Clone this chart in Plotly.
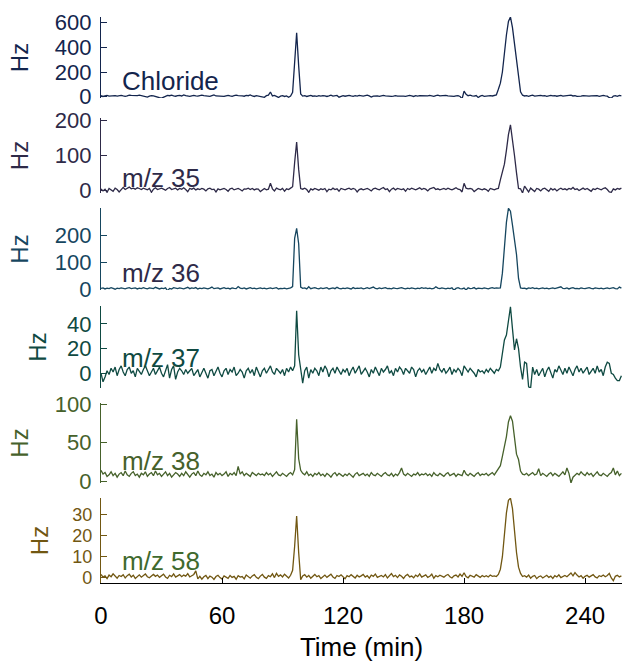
import plotly.graph_objects as go
from plotly.subplots import make_subplots

# ---------------- data (1 sample per minute, t = 0..258 min) ----------------
time_min = list(range(259))

chloride = [
    8, 2, 6, 10, 4, 7, 12, 9, 5, 8,
    11, 6, 3, 7, 13, 10, 8, 5, 9, 12,
    7, 4, 2, -3, 5, 9, 6, 3, 1, -8,
    -12, -4, 6, 10, 8, 12, 7, 4, 9, 11,
    6, 14, 8, 5, 3, 7, 10, 6, 4, 9,
    12, 8, 5, 7, 3, 9, 15, 6, 4, 8,
    5, 2, 7, 10, 6, 3, 8, 12, 9, 5,
    7, 4, 10, 8, 14, 6, 2, 9, 5, 7,
    3, -5, 8, 12, 38, 6, 10, 4, -6, 5,
    8, 2, 6, -4, 5, 35, 290, 518, 250, 22,
    5, 8, 2, 6, 10, 4, 7, 3, 8, 5,
    9, 6, 2, 7, 13, 5, 8, 10, -4, 6,
    9, 4, 7, 11, 6, 3, 8, 5, 10, 7,
    4, 8, 12, 6, -3, 5, 9, 7, 3, 8,
    10, 6, 4, 7, 2, 5, 9, 4, 6, 8,
    5, 3, 7, 10, 6, 2, 8, 5, 9, 7,
    4, 8, 6, 11, 5, 3, 9, 12, 6, 8,
    4, 10, 7, 5, 8, 3, 6, 9, 2, -18,
    45, 20, 8, 12, 6, 4, 9, -6, 5, 10,
    3, 7, 5, 9, 6, 8, 15, 60, 110, 200,
    360, 500, 610, 646, 560, 430, 290, 140, 40, 12,
    6, 9, 3, 8, 12, 5, 7, 4, 10, 6,
    8, 3, 6, 11, 7, 9, 4, 6, 10, 5,
    7, 4, 8, 12, 6, 9, 3, 7, 5, 8,
    6, 10, 4, 7, 9, 5, 8, 3, 6, 11,
    7, 4, -8, -12, 5, 8, 3, 10, 6,
]

mz35 = [
    4, -2, 3, -6, 5, 1, -3, 6, 2, -5,
    3, 8, 2, 5, 9, 4, 6, 3, 7, 5,
    2, 6, 4, 1, 5, -6, 3, 7, 2, 4,
    6, 3, 0, 5, 8, 2, 4, 6, 1, 5,
    3, 7, 2, -4, 5, 3, 6, 1, 4, 2,
    5, 3, -2, 4, 6, 2, 3, -5, 4, 1,
    3, 5, 2, -3, 4, 6, 1, 3, 5, 2,
    -2, 4, 3, 6, 2, 5, 1, 4, 3, -4,
    2, 5, 1, 3, 20, 4, -2, 6, 3, 1,
    5, -3, 4, 2, 6, 10, 80, 139, 60, 5,
    3, 6, 2, -6, 4, 1, 5, 3, 0, 4,
    2, 5, -4, 3, 1, 6, 2, 4, -3, 5,
    3, 1, 4, 6, 2, 5, 3, -5, 2, 4,
    1, 3, 5, 2, -2, 4, 6, 3, 1, 5,
    8, 2, 4, -4, 3, 6, 1, 5, 3, 2,
    4, -3, 5, 2, 6, 3, 1, 4, 7, 2,
    5, 3, -2, 4, 6, 8, 2, 4, 1, 3,
    5, 2, 6, 3, 1, 4, 7, 3, 2, -5,
    20, 6, 4, 5, 3, -4, 2, 5, 3, 1,
    4, 2, -3, 5, 3, 1, 4, 5, 30, 55,
    75, 115, 160, 188, 150, 100, 50, 5, 4, -8,
    12, 2, -5, 6, 1, -4, 5, 3, -2, 4,
    6, 2, -3, 5, 1, 4, -2, 3, 6, 2,
    4, 1, 5, 3, 8, 2, 4, -1, 3, 6,
    2, 5, 1, -3, 4, 2, 6, 3, 1, 5,
    7, 2, -5, -6, 4, 1, 5, 3, 6,
]

mz36 = [
    3, 5, 1, 4, 2, 6, 3, 0, 4, 2,
    5, 3, 1, 4, 6, 2, 3, 5, 1, 4,
    2, 6, 3, 1, 5, 4, 2, 7, 3, 1,
    4, 2, 5, -6, 3, 1, 6, 4, 2, 5,
    3, 1, 4, 7, 2, 5, 3, 6, 1, 4,
    2, 5, 3, 1, 4, 8, 2, 3, 5, 1,
    3, 6, 2, 4, 1, 5, 3, 2, 10, 4,
    2, 5, 1, 3, 6, 2, 4, 1, 3, 5,
    2, 4, 1, 3, 5, 2, 4, 6, 1, 3,
    2, 4, 1, 3, 5, 10, 190, 228, 170, 8,
    3, 5, 1, 9, 2, 4, 6, 3, 1, 5,
    2, 4, 6, 1, 3, 5, 2, 7, 3, 1,
    4, 2, 5, 3, 1, 6, 2, 4, 3, 5,
    1, 3, 6, 2, 4, 8, 3, 1, 5, 2,
    4, 6, 2, 3, 1, 5, 3, 2, 4, 6,
    3, 1, 4, 2, 5, 3, 1, 4, 2, 6,
    3, 5, 2, 4, 1, 3, 9, 4, 2, 5,
    3, 1, 4, 2, 5, -4, 3, 6, 2, 1,
    4, -3, 5, 2, 3, 6, 1, 4, 3, 2,
    5, 3, 1, 4, 6, 3, 5, 4, 5, 60,
    170, 250, 303, 292, 240, 190, 130, 40, 5, 3,
    4, 1, 5, 3, 6, 2, 4, 1, 3, 5,
    2, 4, 1, 3, 5, 2, 4, 6, 9, 3,
    2, 5, 1, 4, 6, 2, 3, 1, 5, 3,
    2, 4, 6, 3, 1, 5, 3, 2, 4, 1,
    3, 5, 2, 4, 6, 2, 1, 8, 4,
]

mz37 = [
    0, -7, -3, 2, -1, 4, 1, 5, -2, 3,
    6, 1, -2, 3, 5, 0, 2, -3, 4, 1,
    -1, 3, 6, 2, -2, 1, 4, -1, 2, 5,
    0, -3, 2, 7, -4, 3, 6, -5, 1, 4,
    2, -1, 3, 0, 2, 4, -2, 1, 3, -3,
    1, 4, 0, -4, 2, 3, -2, 1, 5, 0,
    -3, 2, 4, -1, 3, 1, 5, -2, 0, 3,
    1, -4, 2, 4, 0, 3, -2, 5, 1, -3,
    2, 4, 0, 3, 6, 1, -1, 4, 2, 0,
    3, -2, 4, 1, 5, 2, 6, 50.7, 15, 5,
    -8, 2, 5, -4, 3, 0, 4, 2, -2, 5,
    1, 6, 3, -3, 2, 4, 0, 5, 2, -1,
    3, 1, 4, -2, 2, 5, 0, 3, 6, -1,
    2, 4, 1, -3, 3, 0, 5, 2, -2, 4,
    1, 3, 6, 0, 2, -2, 4, 1, 5, 3,
    -1, 4, 2, 0, 5, 3, -3, 2, 4, 1,
    3, -1, 2, 5, 0, 4, 2, 8, 3, 1,
    4, 0, 2, 5, -1, 3, 1, 4, 2, -2,
    6, 3, 1, 4, 2, 0, -3, 3, 1, 2,
    0, 3, 1, 4, 2, 0, 3, 2, 5, 15,
    27, 31, 45, 54, 36, 19, 28, 20, 5, -5,
    9, 8, -11, -12, 5, -1, 3, -2, 1, 4,
    -3, 2, 5, 0, -4, 3, 1, 6, 2, -1,
    4, 0, 5, 2, -2, 3, 6, 1, 4, 0,
    3, 5, -1, 2, 4, 0, 6, 1, 3, -2,
    5, 9, 8, 0, -1, -4, -6, -6, -2,
]

mz38 = [
    14, 9, 11, 6, 8, 12, 7, 10, 5, 9,
    11, 7, 13, 8, 6, 10, 12, 7, 9, 5,
    10, 8, 12, 6, 9, 11, 7, 13, 8, 10,
    6, 9, 12, 7, 10, 5, 8, 11, 9, 6,
    10, 7, 12, 8, 5, 9, 11, 7, 13, 8,
    6, 10, 8, 12, 7, 9, 5, 11, 8, 10,
    7, 9, 12, 6, 10, 8, 11, 7, 19, 9,
    12, 7, 10, 8, 6, 11, 9, 7, 10, 8,
    9, 7, 11, 8, 10, 6, 9, 12, 8, 7,
    10, 8, 6, 9, 11, 8, 15, 80.5, 29, 14,
    10, 8, 12, 7, 9, 6, 10, 8, 11, 7,
    9, 6, 10, 8, 5, 9, 11, 7, 10, 8,
    6, 9, 7, 10, 8, 5, 9, 11, 7, 8,
    10, 7, 9, 6, 11, 8, 7, 10, 8, 6,
    9, 11, 8, 7, 10, 6, 9, 7, 11, 17,
    9, 7, 10, 8, 6, 9, 8, 11, 7, 9,
    8, 10, 7, 9, 6, 11, 8, 7, 10, 8,
    6, 9, 11, 7, 8, 10, 6, 9, 8, 7,
    14, 9, 7, 10, 8, 6, 9, 11, 7, 9,
    8, 10, 7, 9, 11, 8, 12, 15, 20, 32,
    45, 58, 77, 85, 78, 58, 35, 28, 13, 9,
    8, 10, 7, 9, 11, 8, 9, 16, 7, 10,
    8, 6, 9, 11, 7, 10, 8, 6, 9, 12,
    8, 17, 10, -2.6, 5, 7, 10, 8, 12, 9,
    7, 11, 8, 10, 6, 9, 12, 8, 7, 10,
    8, 6, 9, 11, 17, 8, 13, 7, 10,
]

mz58 = [
    1.5, 0.2, 0.8, -0.5, 1.2, 0.4, 1.8, 0.6, -0.3, 1.0,
    0.5, 1.4, -0.2, 0.9, 1.6, 0.3, 1.1, -0.4, 0.7, 1.3,
    0.2, 1.0, 1.7, 0.4, -0.1, 0.8, 1.5, 0.6, 1.2, 0.1,
    0.9, 1.6, 0.3, -0.4, 1.1, 0.5, 1.8, 0.2, 0.8, 1.4,
    0.4, 1.2, 0.7, 1.9, 0.3, 0.9, 1.5, 3.2, -0.6, 0.6,
    -0.8, 0.4, 1.0, -0.5, 0.7, 0.2, -0.9, 0.5, 1.1, 0.0,
    -0.7, 0.8, 0.3, -0.4, 1.0, 0.1, 0.6, -0.8, 0.9, 0.2,
    0.5, -0.6, 1.2, 0.3, -0.3, 0.8, 1.4, 0.1, -0.5, 0.7,
    1.5, 0.2, -0.4, 0.9, 0.4, 1.8, 0.0, 2.0, 0.6, 1.3,
    0.3, 1.6, 0.5, -0.2, 1.1, 3.5, 15, 29.5, 12, -1.0,
    0.8, 1.4, 0.2, 1.0, -0.3, 0.7, 1.5, 0.4, 0.9, -0.5,
    0.6, 1.2, 0.1, 0.8, 1.6, 0.3, -0.4, 1.0, 0.5, 1.3,
    0.2, -0.6, 0.9, 0.4, 1.4, 0.7, -0.2, 1.1, 0.3, 0.8,
    1.5, 0.2, 0.9, -0.3, 1.2, 0.6, 1.7, 0.1, 0.7, 1.0,
    0.3, 1.4, -0.2, 0.8, 1.9, 0.5, 1.1, 0.0, 1.3, 0.6,
    -0.4, 0.9, 1.5, 0.3, 0.7, -0.1, 1.2, 0.5, 1.8, 0.2,
    0.8, 1.3, 0.1, 0.6, 1.6, -0.3, 0.9, 0.4, 1.1, 0.7,
    0.2, 1.0, 1.5, 0.4, -0.2, 0.8, 1.2, 0.3, 1.7, 0.6,
    2.3, 0.5, -0.1, 1.1, 0.6, 0.2, 1.4, 0.7, 0.1, 1.0,
    0.4, 0.9, 0.3, 1.2, 0.6, 0.8, 0.5, 1.5, 4.0, 10,
    20, 31, 37, 38, 33, 22, 12, 5, 2, 0.5,
    0.9, 0.2, 1.2, -0.3, 0.6, 1.0, -0.5, 0.4, 0.8, -0.2,
    0.5, 1.1, 0.1, 0.7, -0.4, 0.9, 0.3, 1.3, 0.0, 0.6,
    1.0, 0.4, 1.5, 2.2, 0.8, 2.4, 1.2, 0.3, 0.9, -0.3,
    0.6, 1.1, 0.2, 0.8, 1.4, 0.3, -0.2, 0.9, 0.5, 1.2,
    0.4, 1.0, 2.0, -0.2, -1.5, 0.6, 1.1, 0.3, 0.8,
]

labels = ["Chloride", "m/z 35", "m/z 36", "m/z 37", "m/z 38", "m/z 58"]
series = [chloride, mz35, mz36, mz37, mz38, mz58]
tick_values = [[0, 200, 400, 600], [0, 100, 200], [0, 100, 200],
               [0, 20, 40], [0, 50, 100], [0, 10, 20, 30]]
x_ticks = [0, 60, 120, 180, 240]

# ---------------- styling ----------------
line_colors = ["#13254d", "#2e2a48", "#16465f", "#0f4a42", "#46612b", "#715712"]
label_colors = ["#13254d", "#2e2a48", "#2e2a48", "#0f4a42", "#46612b", "#3f6a2e"]
y_ranges = [[-10.5, 646], [-8, 208], [-3, 304], [-12, 54.6], [-2.6, 101.7], [-2.6, 38.1]]
# panel extents in pixels (top, bottom) inside the 566-px plot area (17..583)
panel_px = [(17, 98), (118, 193), (208, 290), (306, 388), (403, 483), (498, 583)]
label_shift = [0, -2, 0, 13, 5, 5]
tick_size = [22, 22, 22, 22, 22, 18]
hz_standoff = [19, 19, 19, 13, 19, 16]

FONT = "Liberation Sans, Arial, sans-serif"
W, H = 622, 662
M_T, M_B, M_L, M_R = 17, 79, 101, 0
PH = H - M_T - M_B

fig = make_subplots(rows=6, cols=1, shared_xaxes=True, vertical_spacing=0.02)

for i, (vals, col) in enumerate(zip(series, line_colors)):
    fig.add_trace(go.Scatter(x=time_min, y=vals, mode="lines",
                             line=dict(color=col, width=1.3),
                             showlegend=False, hoverinfo="skip"),
                  row=i + 1, col=1)

for i in range(6):
    top, bot = panel_px[i]
    dom = [(H - M_B - bot) / PH, (H - M_B - top) / PH]
    yname = "yaxis" if i == 0 else f"yaxis{i+1}"
    fig.layout[yname].update(
        domain=dom, range=y_ranges[i], tickvals=tick_values[i],
        showline=True, linecolor=line_colors[i], linewidth=1.3,
        ticks="inside", ticklen=6, tickwidth=1.3, tickcolor=line_colors[i],
        tickfont=dict(family=FONT, size=tick_size[i], color=line_colors[i]),
        ticklabelstandoff=4,
        title=dict(text="Hz", font=dict(family=FONT, size=24, color=line_colors[i]),
                   standoff=hz_standoff[i]),
        showgrid=False, zeroline=False, automargin=False,
    )
    xname = "xaxis" if i == 0 else f"xaxis{i+1}"
    if i < 5:
        fig.layout[xname].update(visible=False, range=[0, 258.3],
                                 showgrid=False, zeroline=False)
    else:
        fig.layout[xname].update(
            range=[0, 258.3], tickvals=x_ticks,
            showline=True, linecolor="black", linewidth=1.3,
            ticks="inside", ticklen=5, tickwidth=1.3, tickcolor="black",
            tickfont=dict(family=FONT, size=24, color="black"),
            ticklabelstandoff=11,
            title=dict(text="Time (min)", font=dict(family=FONT, size=26, color="black"),
                       standoff=17),
            showgrid=False, zeroline=False, automargin=False,
        )
    yref = "y domain" if i == 0 else f"y{i+1} domain"
    fig.add_annotation(text=labels[i], xref="paper", yref=yref,
                       x=(120 - M_L) / (W - M_L - M_R), y=0,
                       xanchor="left", yanchor="bottom", yshift=label_shift[i],
                       showarrow=False,
                       font=dict(family=FONT, size=26, color=label_colors[i]))

fig.update_layout(width=W, height=H, margin=dict(l=M_L, r=M_R, t=M_T, b=M_B),
                  paper_bgcolor="white", plot_bgcolor="white",
                  font=dict(family=FONT))

fig.write_html("out.html")
